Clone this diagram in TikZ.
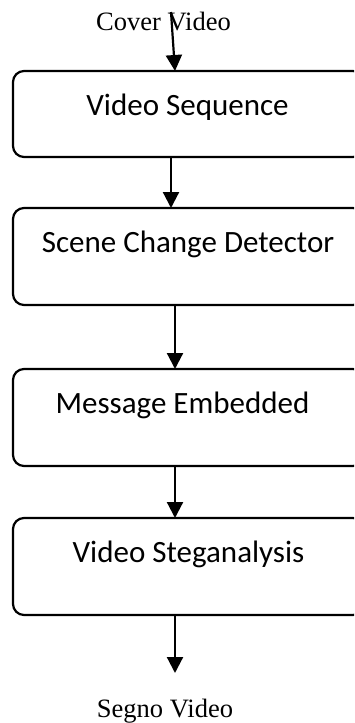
\documentclass[tikz,border=0pt]{standalone}
\usepackage{fontspec}
\setmainfont{Liberation Serif}
\newfontfamily\boxfont{Carlito}
\usetikzlibrary{arrows.meta}

\tikzset{
  stagebox/.style={draw=black, line width=2.2pt, rounded corners=11pt,
    rectangle, inner sep=0pt, outer sep=0pt, minimum width=351pt,
    anchor=north west},
  boxlabel/.style={anchor=base, inner sep=0pt,
    font=\boxfont\fontsize{31}{34}\selectfont},
  endlabel/.style={anchor=base, inner sep=0pt,
    font=\fontsize{26.5}{30}\selectfont},
  flow/.style={draw=black, line width=2.2pt,
    -{Triangle[width=16pt,length=16pt]}}
}

\begin{document}
\begin{tikzpicture}[x=1pt, y=-1pt]
  \useasboundingbox (0,0) rectangle (354,723);
  \clip (0,0) rectangle (354,723);

  % processing stages
  \node[stagebox, minimum height=86pt] (b1) at (13,71) {};
  \node[stagebox, minimum height=97pt] (b2) at (13,208) {};
  \node[stagebox, minimum height=97pt] (b3) at (13,369) {};
  \node[stagebox, minimum height=97pt] (b4) at (13,518) {};

  \node[boxlabel] (t1) at (187.5,115) {Video Sequence};
  \node[boxlabel] (t2) at (188,252) {Scene Change Detector};
  \node[boxlabel] (t3) at (182.5,413) {Message Embedded};
  \node[boxlabel] (t4) at (188.5,562) {Video Steganalysis};

  % input and output captions
  \node[endlabel] (cin) at (163.5,30) {Cover Video};
  \node[endlabel] (cout) at (165,717) {Segno Video};

  % connector ends and columns
  \coordinate (src) at (171,12);
  \coordinate (sink) at (175,673);
  \coordinate (colA) at (175,0);
  \coordinate (colB) at (171,0);
  \coordinate (colC) at (175,0);

  % connectors
  \draw[flow] (src) -- (b1.north -| colA);
  \draw[flow] (b1.south -| colB) -- (b2.north -| colB);
  \draw[flow] (b2.south -| colC) -- (b3.north -| colC);
  \draw[flow] (b3.south -| colC) -- (b4.north -| colC);
  \draw[flow] (b4.south -| colC) -- (sink);
\end{tikzpicture}
\end{document}
